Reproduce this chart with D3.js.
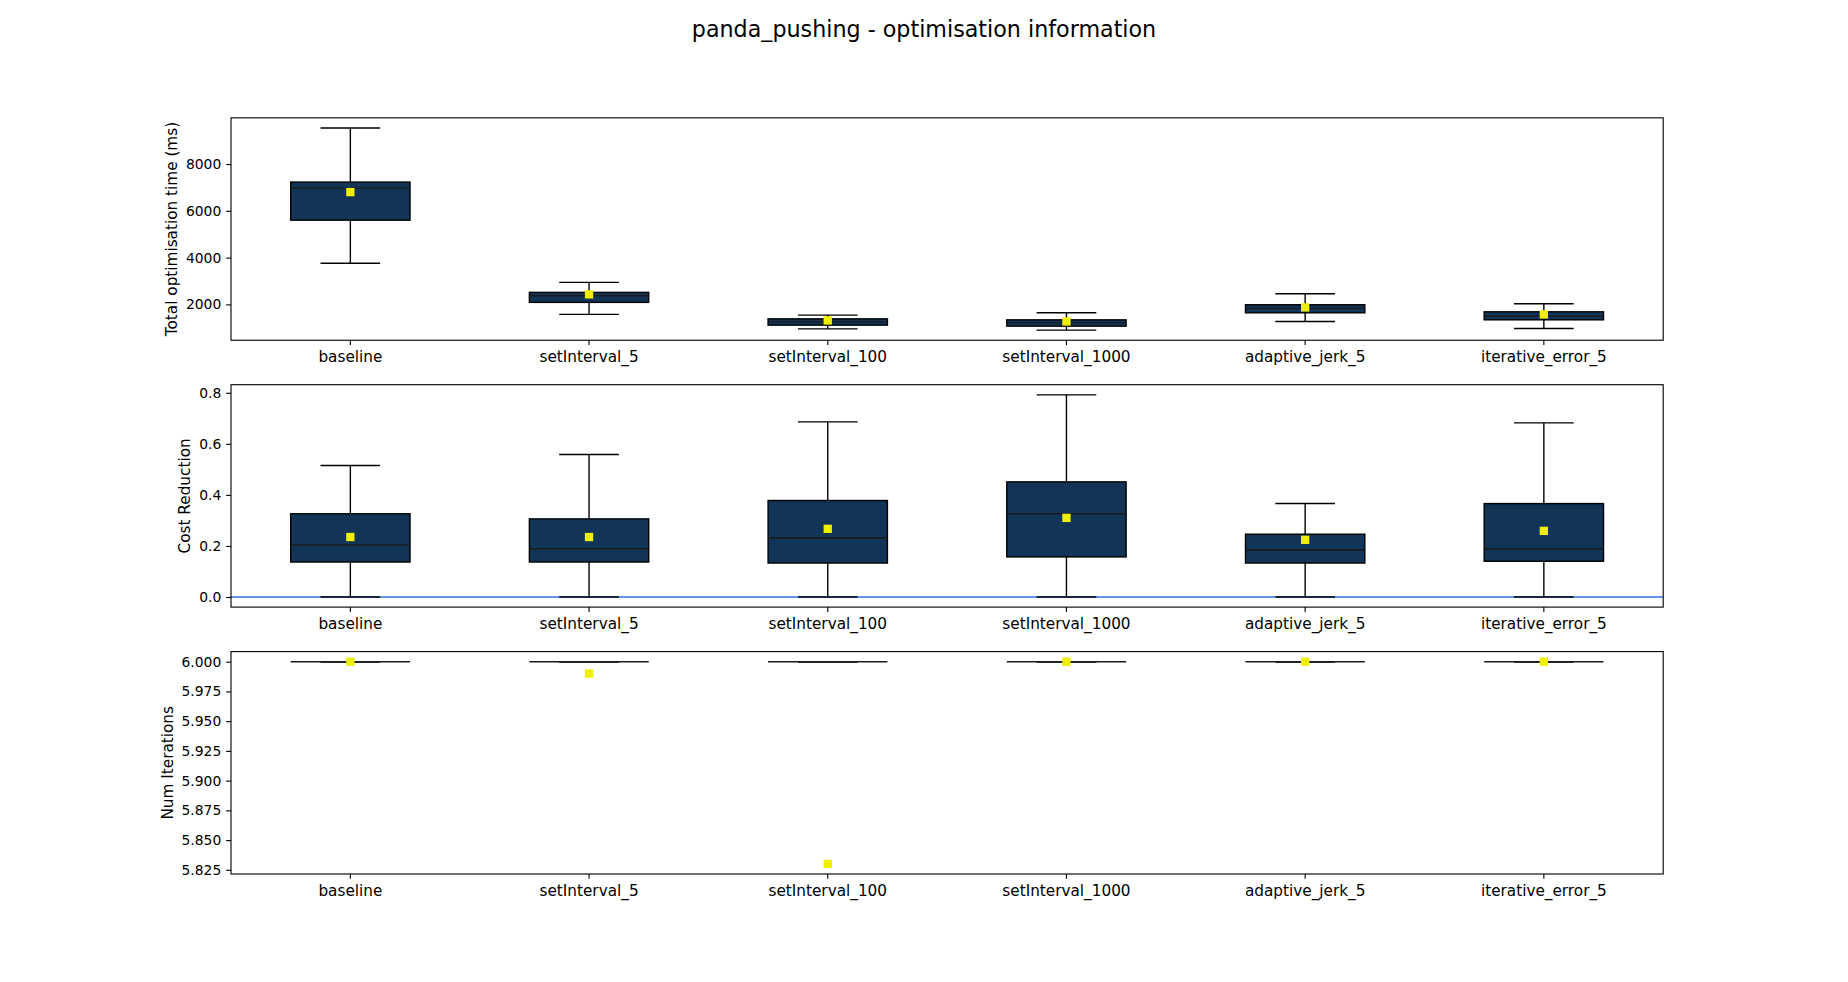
<!DOCTYPE html>
<html>
<head>
<meta charset="utf-8">
<script src="https://cdn.jsdelivr.net/npm/d3@7"></script>
<style>
  html, body { margin: 0; padding: 0; background: #ffffff; }
  svg { display: block; font-family: "DejaVu Sans", sans-serif; }
</style>
</head>
<body>
<svg id="chart" width="1848" height="982"></svg>
<script>
// ---------- data ----------
const categories = ["baseline", "setInterval_5", "setInterval_100", "setInterval_1000", "adaptive_jerk_5", "iterative_error_5"];

const timeLow    = [3757, 1571,  955,  900, 1271,  971];
const timeQ1     = [5600, 2086, 1113, 1070, 1640, 1340];
const timeMedian = [6971, 2370, 1255, 1212, 1829, 1500];
const timeQ3     = [7229, 2514, 1383, 1340, 1985, 1683];
const timeHigh   = [9543, 2943, 1542, 1640, 2456, 2026];
const timeMean   = [6800, 2429, 1314, 1271, 1871, 1571];
const timeTicks  = [2000, 4000, 6000, 8000];

const costLow    = [0, 0, 0, 0, 0, 0];
const costQ1     = [0.137, 0.137, 0.133, 0.157, 0.133, 0.140];
const costMedian = [0.204, 0.189, 0.231, 0.326, 0.184, 0.188];
const costQ3     = [0.326, 0.306, 0.378, 0.451, 0.246, 0.366];
const costHigh   = [0.515, 0.558, 0.686, 0.792, 0.366, 0.682];
const costMean   = [0.235, 0.235, 0.267, 0.310, 0.224, 0.259];
const costTicks  = [0.0, 0.2, 0.4, 0.6, 0.8];
const costRefLine = 0;

const iterLow    = [6, 6, 6, 6, 6, 6];
const iterQ1     = [6, 6, 6, 6, 6, 6];
const iterMedian = [6, 6, 6, 6, 6, 6];
const iterQ3     = [6, 6, 6, 6, 6, 6];
const iterHigh   = [6, 6, 6, 6, 6, 6];
const iterMean   = [6.0, 5.99, 5.83, 6.0, 6.0, 6.0];
const iterTicks  = [5.825, 5.850, 5.875, 5.900, 5.925, 5.950, 5.975, 6.000];

const titleText = "panda_pushing - optimisation information";

// ---------- layout ----------
const FIG_W = 1848, FIG_H = 982;
const axLeft = 0.125 * FIG_W, axRight = 0.9 * FIG_W;
const axTop = (1 - 0.88) * FIG_H, axBottom = (1 - 0.11) * FIG_H;
const nRows = 3, hspace = 0.2;
const axH = (axBottom - axTop) / (nRows + (nRows - 1) * hspace);
const axGap = axH * hspace;
const px = pt => pt * 100 / 72;

const svg = d3.select("#chart");

svg.append("text")
  .attr("x", FIG_W / 2).attr("y", 37)
  .attr("text-anchor", "middle")
  .attr("font-size", px(16))
  .attr("fill", "#000")
  .text(titleText);

const xBand = d3.scaleBand().domain(categories).range([axLeft, axRight]).paddingInner(0).paddingOuter(0);
const bw = xBand.bandwidth();
const boxW = bw * 0.5;
const capW = boxW * 0.5;

const panels = [
  { label: "Total optimisation time (ms)", low: timeLow, q1: timeQ1, med: timeMedian, q3: timeQ3, high: timeHigh, mean: timeMean, ticks: timeTicks, fmt: d3.format("d"), ref: null },
  { label: "Cost Reduction", low: costLow, q1: costQ1, med: costMedian, q3: costQ3, high: costHigh, mean: costMean, ticks: costTicks, fmt: d3.format(".1f"), ref: costRefLine },
  { label: "Num Iterations", low: iterLow, q1: iterQ1, med: iterMedian, q3: iterQ3, high: iterHigh, mean: iterMean, ticks: iterTicks, fmt: d3.format(".3f"), ref: null }
];

panels.forEach((p, i) => {
  const y0 = axTop + i * (axH + axGap);
  const y1 = y0 + axH;
  let vals = [].concat(p.low, p.high, p.mean);
  if (p.ref !== null) vals.push(p.ref);
  const dmin = d3.min(vals), dmax = d3.max(vals);
  const r = dmax - dmin;
  const y = d3.scaleLinear().domain([dmin - 0.05 * r, dmax + 0.05 * r]).range([y1, y0]);

  const g = svg.append("g");

  const clipId = "clip" + i;
  svg.append("clipPath").attr("id", clipId)
    .append("rect").attr("x", axLeft).attr("y", y0).attr("width", axRight - axLeft).attr("height", axH);
  const plot = g.append("g").attr("clip-path", `url(#${clipId})`);

  if (p.ref !== null) {
    plot.append("line")
      .attr("x1", axLeft).attr("x2", axRight)
      .attr("y1", y(p.ref)).attr("y2", y(p.ref))
      .attr("stroke", "#6495ED").attr("stroke-width", 2);
  }

  const data = categories.map((c, k) => ({ c, low: p.low[k], q1: p.q1[k], med: p.med[k], q3: p.q3[k], high: p.high[k], mean: p.mean[k] }));
  const cx = d => xBand(d.c) + bw / 2;
  const lw = px(1);

  const bx = plot.selectAll(".bx").data(data).enter().append("g");
  bx.append("line").attr("x1", cx).attr("x2", cx).attr("y1", d => y(d.q3)).attr("y2", d => y(d.high))
    .attr("stroke", "#000").attr("stroke-width", lw);
  bx.append("line").attr("x1", cx).attr("x2", cx).attr("y1", d => y(d.q1)).attr("y2", d => y(d.low))
    .attr("stroke", "#000").attr("stroke-width", lw);
  bx.append("line").attr("x1", d => cx(d) - capW / 2).attr("x2", d => cx(d) + capW / 2)
    .attr("y1", d => y(d.high)).attr("y2", d => y(d.high))
    .attr("stroke", "#000").attr("stroke-width", lw);
  bx.append("line").attr("x1", d => cx(d) - capW / 2).attr("x2", d => cx(d) + capW / 2)
    .attr("y1", d => y(d.low)).attr("y2", d => y(d.low))
    .attr("stroke", "#000").attr("stroke-width", lw);
  bx.append("rect")
    .attr("x", d => cx(d) - boxW / 2).attr("width", boxW)
    .attr("y", d => y(d.q3)).attr("height", d => Math.max(0, y(d.q1) - y(d.q3)))
    .attr("fill", "#123456").attr("stroke", "#000").attr("stroke-width", lw);
  bx.append("line").attr("x1", d => cx(d) - boxW / 2).attr("x2", d => cx(d) + boxW / 2)
    .attr("y1", d => y(d.med)).attr("y2", d => y(d.med))
    .attr("stroke", "#1a1a1a").attr("stroke-width", lw);
  const ms = px(6);
  bx.append("rect")
    .attr("x", d => cx(d) - ms / 2).attr("y", d => y(d.mean) - ms / 2)
    .attr("width", ms).attr("height", ms)
    .attr("fill", "#eef000");

  g.append("rect").attr("x", axLeft).attr("y", y0).attr("width", axRight - axLeft).attr("height", axH)
    .attr("fill", "none").attr("stroke", "#000").attr("stroke-width", px(0.8));

  const yAxis = g.append("g").attr("transform", `translate(${axLeft},0)`)
    .call(d3.axisLeft(y).tickValues(p.ticks).tickFormat(p.fmt).tickSize(px(3.5)).tickPadding(px(3.5)));
  yAxis.select(".domain").remove();
  yAxis.selectAll("line").attr("stroke", "#000").attr("stroke-width", px(0.8));
  yAxis.selectAll("text").attr("font-size", px(10)).attr("fill", "#000")
    .attr("font-family", "DejaVu Sans");

  const xAxis = g.append("g").attr("transform", `translate(0,${y1})`)
    .call(d3.axisBottom(xBand).tickSize(px(3.5)).tickPadding(px(3.5)));
  xAxis.select(".domain").remove();
  xAxis.selectAll("line").attr("stroke", "#000").attr("stroke-width", px(0.8));
  xAxis.selectAll("text").attr("font-size", px(11)).attr("fill", "#000")
    .attr("font-family", "DejaVu Sans").attr("dy", "0.8em");

  let minX = axLeft;
  yAxis.selectAll("text").each(function () {
    const b = this.getBBox();
    minX = Math.min(minX, axLeft + b.x);
  });
  const lx = minX - 9;
  const ly = (y0 + y1) / 2;
  g.append("text")
    .attr("transform", `translate(${lx},${ly}) rotate(-90)`)
    .attr("text-anchor", "middle")
    .attr("font-size", px(11))
    .attr("fill", "#000")
    .text(p.label);
});
</script>
</body>
</html>
